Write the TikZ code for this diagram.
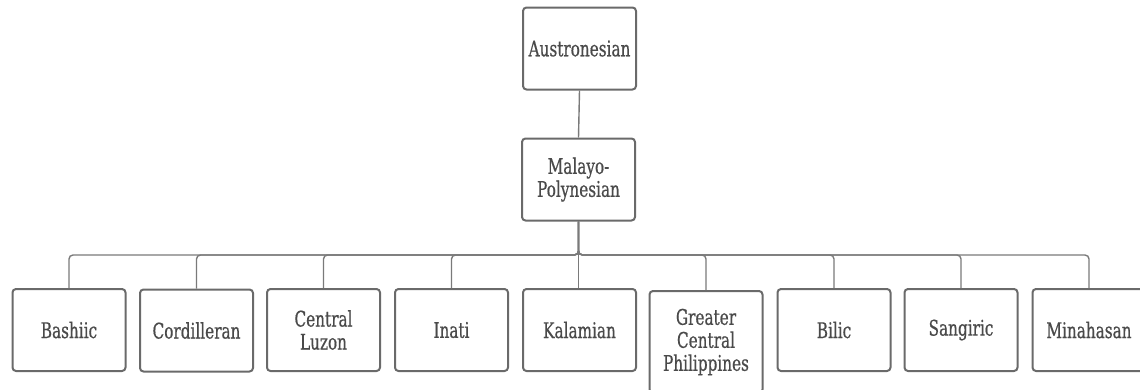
\documentclass[tikz,border=0pt]{standalone}
\usepackage{fontspec}
\setmainfont[FakeStretch=0.71,FakeBold=0.6]{DejaVu Serif}
\definecolor{boxgray}{HTML}{6A6A6A}
\definecolor{txtgray}{HTML}{4A4A4A}
\definecolor{linegray}{HTML}{7A7A7A}
\begin{document}
\begin{tikzpicture}[x=1pt,y=-1pt,
  lang/.style={draw=boxgray,line width=2pt,rounded corners=3.5pt,fill=white,
    minimum width=113pt,minimum height=82pt,inner sep=2pt,
    align=center,text=txtgray,font=\fontsize{21.5}{23}\selectfont},
  conn/.style={draw=linegray,line width=1.4pt,rounded corners=4pt}]
\useasboundingbox (0,0) rectangle (1140,389);
\begin{scope}
\clip (0,0) rectangle (1140,389);
\node[lang] (aus) at (579.5,48.5) {Austronesian};
\node[lang] (mal) at (578.5,179.5) {Malayo-\\Polynesian};
\coordinate (bus) at (578.5,255);
\node[lang] (c1) at (69,330) {Bashiic};
\node[lang] (c2) at (196.5,330.5) {Cordilleran};
\node[lang] (c3) at (323.5,330) {Central\\Luzon};
\node[lang] (c4) at (451.5,330) {Inati};
\node[lang] (c5) at (579.5,330) {Kalamian};
\node[lang,anchor=north,minimum height=102pt] (c6) at (706,290) {Greater\\Central\\Philippines};
\node[lang] (c7) at (834,330) {Bilic};
\node[lang] (c8) at (961,330) {Sangiric};
\node[lang] (c9) at (1089,330) {Minahasan};
\draw[conn] (aus.south) -- (mal.north);
\foreach \c in {c1,c2,c3,c4,c6,c7,c8,c9}{
  \draw[conn] (mal.south) -- (mal.south |- bus) -| (\c.north);
}
\draw[conn] (mal.south) -- (mal.south |- c5.north);
\end{scope}
\end{tikzpicture}
\end{document}
